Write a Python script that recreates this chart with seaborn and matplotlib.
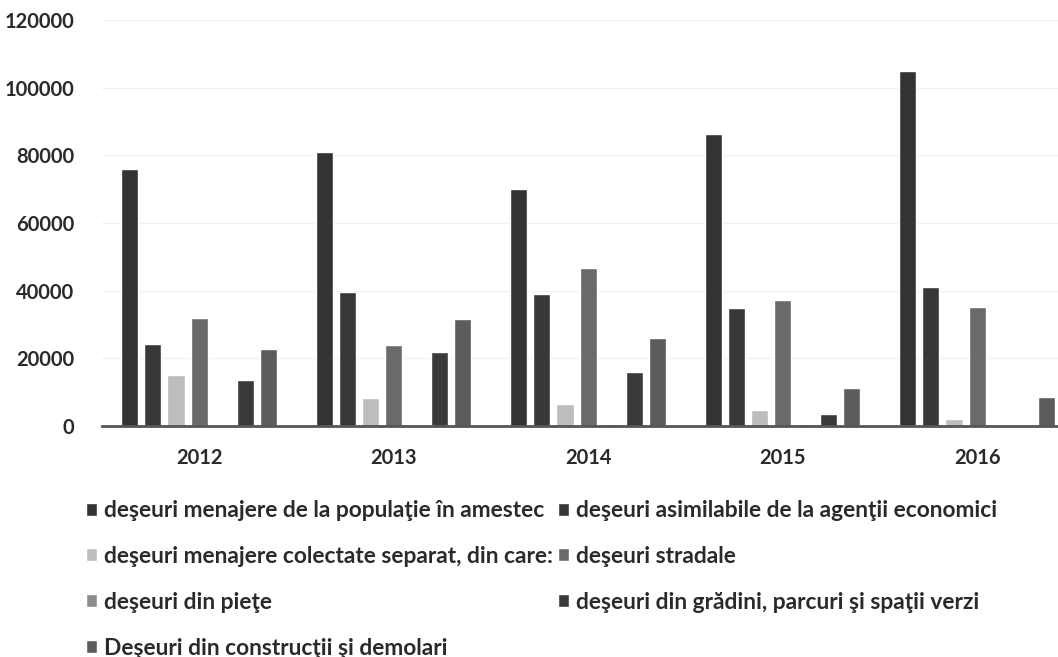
import pandas as pd
import numpy as np
import matplotlib.pyplot as plt
import seaborn as sns

years = ['2012', '2013', '2014', '2015', '2016']
categories = [
    'deşeuri menajere de la populaţie în amestec',
    'deşeuri asimilabile de la agenţii economici',
    'deşeuri menajere colectate separat, din care:',
    'deşeuri stradale',
    'deşeuri din pieţe',
    'deşeuri din grădini, parcuri şi spaţii verzi',
    'Deşeuri din construcţii şi demolari',
]
amestec = [76000, 81000, 70000, 86300, 105000]
asimilabile = [24300, 39500, 39000, 35000, 41000]
colectate = [15000, 8200, 6500, 4700, 2200]
stradale = [32000, 24000, 46600, 37200, 35300]
piete = [300, 300, 500, 500, 400]
gradini = [13500, 21800, 15900, 3500, 300]
constructii = [22800, 31600, 25900, 11300, 8700]

colors = ['#333333', '#383838', '#bdbdbd', '#6a6a6a', '#8c8c8c', '#3a3a3a', '#5c5c5c']

series = [amestec, asimilabile, colectate, stradale, piete, gradini, constructii]
rows = []
for cat, vals in zip(categories, series):
    for yr, v in zip(years, vals):
        rows.append({'an': yr, 'valoare': v, 'categorie': cat})
df = pd.DataFrame(rows)

sns.set_style('white')
plt.rcParams['font.family'] = ['Lato', 'DejaVu Sans']

fig = plt.figure(figsize=(10.58, 6.57), dpi=100)
ax = fig.add_axes([0.0962, 0.3516, 0.9038, 0.618])

sns.barplot(data=df, x='an', y='valoare', hue='categorie', palette=colors,
            width=0.83, gap=0.26, ax=ax, legend=True, saturation=1)

ax.set_xlim(-0.5, 4.416)
ax.set_ylim(0, 120000)
ax.set_yticks(np.arange(0, 120001, 20000))
ax.set_yticklabels([str(t) for t in range(0, 120001, 20000)])
ax.set_xlabel('')
ax.set_ylabel('')
ax.grid(axis='y', color='#f2f2f2', lw=1)
ax.set_axisbelow(True)
for s in ['top', 'right', 'left']:
    ax.spines[s].set_visible(False)
ax.spines['bottom'].set_color('#555555')
ax.spines['bottom'].set_linewidth(2)
ax.tick_params(axis='both', length=0, labelsize=14.5, colors='#2a2a2a')
ax.tick_params(axis='x', pad=16)
ax.tick_params(axis='y', pad=20)
for lab in ax.get_xticklabels() + ax.get_yticklabels():
    lab.set_fontweight('bold')

handles, labels = ax.get_legend_handles_labels()
ax.get_legend().remove()
order = [0, 2, 4, 6, 1, 3, 5]
fig.legend([handles[i] for i in order], [labels[i] for i in order],
           loc='upper left', bbox_to_anchor=(0.062, 0.27), ncol=2,
           frameon=False, handlelength=0.5, handleheight=0.5,
           handletextpad=0.3, columnspacing=0.2, labelspacing=1.09,
           prop={'weight': 'bold', 'size': 16.4})
for t in fig.legends[0].get_texts():
    t.set_color('#2a2a2a')

plt.savefig('out.png', dpi=100)
